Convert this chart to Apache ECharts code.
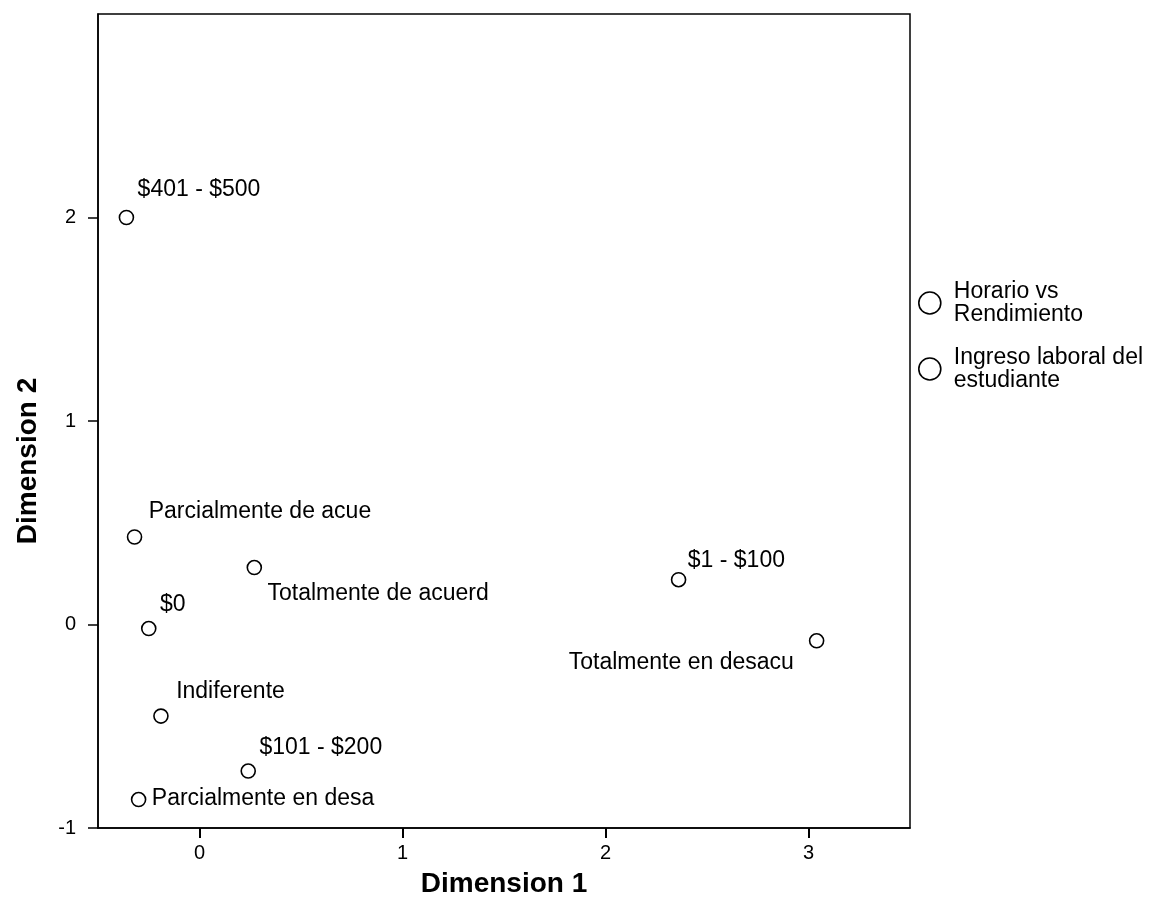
<!DOCTYPE html>
<html>
<head>
<meta charset="utf-8">
<script src="https://cdn.jsdelivr.net/npm/echarts@6/dist/echarts.min.js"></script>
<style>
  html, body { margin: 0; padding: 0; background: #fff; }
  #chart { width: 1152px; height: 916px; }
</style>
</head>
<body>
<div id="chart"></div>
<script>
// series names
const seriesNames = ["Horario vs Rendimiento", "Ingreso laboral del estudiante"];

// Horario vs Rendimiento
const horarioLabels = ["Parcialmente de acue", "Totalmente de acuerd", "Indiferente", "Parcialmente en desa", "Totalmente en desacu"];
const horarioX = [-0.32, 0.27, -0.19, -0.30, 3.04];
const horarioY = [0.43, 0.28, -0.45, -0.86, -0.08];

// Ingreso laboral del estudiante
const ingresoLabels = ["$401 - $500", "$0", "$101 - $200", "$1 - $100"];
const ingresoX = [-0.36, -0.25, 0.24, 2.36];
const ingresoY = [2.00, -0.02, -0.72, 0.22];

const xTicks = [0, 1, 2, 3];
const yTicks = [-1, 0, 1, 2];

// where each point label sits relative to its marker: [dx, dy, align]
const labelPlace = {
  "Parcialmente de acue": [15, -25, "left"],
  "Totalmente de acuerd": [14, 27, "left"],
  "Indiferente": [16, -24, "left"],
  "Parcialmente en desa": [14, 0, "left"],
  "Totalmente en desacu": [-22, 23, "right"],
  "$401 - $500": [12, -27, "left"],
  "$0": [12, -23, "left"],
  "$101 - $200": [12, -23, "left"],
  "$1 - $100": [10, -18, "left"]
};

const font = '"Liberation Sans", Arial, sans-serif';
const symSize = 14;

function buildData(names, xs, ys) {
  return names.map((n, i) => {
    const p = labelPlace[n];
    return {
      name: n,
      value: [xs[i], ys[i]],
      label: {
        position: [symSize / 2 + p[0], symSize / 2 + p[1]],
        align: p[2],
        verticalAlign: "middle"
      }
    };
  });
}

function makeSeries(name, data) {
  return {
    name: name,
    type: "scatter",
    symbol: "circle",
    symbolSize: symSize,
    itemStyle: { color: "#fff", borderColor: "#000", borderWidth: 1.6, opacity: 1 },
    label: {
      show: true,
      formatter: "{b}",
      color: "#000",
      fontFamily: font,
      fontSize: 23
    },
    emphasis: { disabled: true },
    data: data
  };
}

const chart = echarts.init(document.getElementById("chart"));

const option = {
  backgroundColor: "#fff",
  animation: false,
  grid: {
    left: 98, right: 242, top: 14, bottom: 88,
    outerBoundsMode: "none",
    containLabel: false,
    show: true, borderColor: "#000", borderWidth: 1.5
  },
  legend: {
    orient: "vertical",
    left: 918, top: 280,
    padding: 0,
    itemWidth: 22, itemHeight: 22, itemGap: 20,
    icon: "circle",
    itemStyle: { color: "#fff", borderColor: "#000", borderWidth: 1.6, opacity: 1 },
    textStyle: { color: "#000", fontFamily: font, fontSize: 23, lineHeight: 23, padding: [0, 0, 0, 8] },
    formatter: function (n) {
      return n === seriesNames[0] ? "Horario vs\nRendimiento" : "Ingreso laboral del\nestudiante";
    },
    data: seriesNames
  },
  xAxis: {
    type: "value",
    min: -0.5, max: 3.5,
    name: "Dimension 1",
    nameLocation: "middle",
    nameGap: 42,
    nameTextStyle: { color: "#000", fontFamily: font, fontSize: 28, fontWeight: "bold" },
    axisLine: { show: true, onZero: false, lineStyle: { color: "#000", width: 1.5 } },
    axisTick: { show: true, length: 10, lineStyle: { color: "#000", width: 2 }, customValues: xTicks },
    axisLabel: { color: "#000", fontFamily: font, fontSize: 20, margin: 15, customValues: xTicks },
    splitLine: { show: false }
  },
  yAxis: {
    type: "value",
    min: -1, max: 3,
    name: "Dimension 2",
    nameLocation: "middle",
    nameGap: 56,
    nameRotate: 90,
    nameTextStyle: { color: "#000", fontFamily: font, fontSize: 28, fontWeight: "bold", padding: [0, 80, 0, 0] },
    axisLine: { show: true, onZero: false, lineStyle: { color: "#000", width: 1.5 } },
    axisTick: { show: true, length: 10, lineStyle: { color: "#000", width: 1.5 }, customValues: yTicks },
    axisLabel: { color: "#000", fontFamily: font, fontSize: 20, margin: 22, customValues: yTicks },
    splitLine: { show: false }
  },
  series: [
    makeSeries(seriesNames[0], buildData(horarioLabels, horarioX, horarioY)),
    makeSeries(seriesNames[1], buildData(ingresoLabels, ingresoX, ingresoY))
  ]
};

chart.setOption(option);
</script>
</body>
</html>
